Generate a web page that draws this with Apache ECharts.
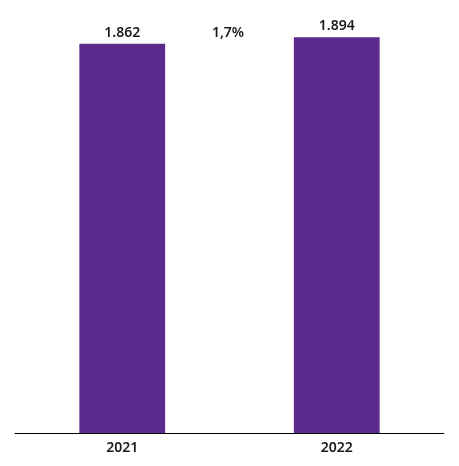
<!DOCTYPE html>
<html><head><meta charset="utf-8">
<script src="https://cdn.jsdelivr.net/npm/echarts@6/dist/echarts.min.js"></script>
<style>html,body{margin:0;padding:0;background:#fff}#c{width:459px;height:466px}</style>
</head><body><div id="c"></div>
<script>
var categories = ['2021', '2022'];
var values = [1862, 1894];
var valueLabels = ['1.862', '1.894'];
var changeLabel = '1,7%';
var chart = echarts.init(document.getElementById('c'));
chart.setOption({
  animation: false,
  grid: {left: 15, right: 15, top: 15, bottom: 33},
  xAxis: {
    type: 'category', data: categories,
    axisLine: {lineStyle: {color: '#000', width: 1}},
    axisTick: {show: false},
    axisLabel: {color: '#1a1a1a', fontSize: 14, fontWeight: 600, fontFamily: 'Noto Sans', margin: 8}
  },
  yAxis: {type: 'value', min: 0, max: 2000, show: false, splitLine: {show: false}},
  series: [{
    type: 'bar', barWidth: '40%',
    data: values,
    itemStyle: {color: '#5b2a8c'},
    label: {show: true, position: 'top', distance: 4, color: '#1a1a1a', fontSize: 14, fontWeight: 600, fontFamily: 'Noto Sans',
      formatter: function(p){ return valueLabels[p.dataIndex]; }}
  }],
  graphic: [{type: 'text', x: 228, y: 33, style: {text: changeLabel, align: 'center', verticalAlign: 'middle', fill: '#1a1a1a', fontSize: 14, fontWeight: 600, fontFamily: 'Noto Sans'}}]
});
</script></body></html>
